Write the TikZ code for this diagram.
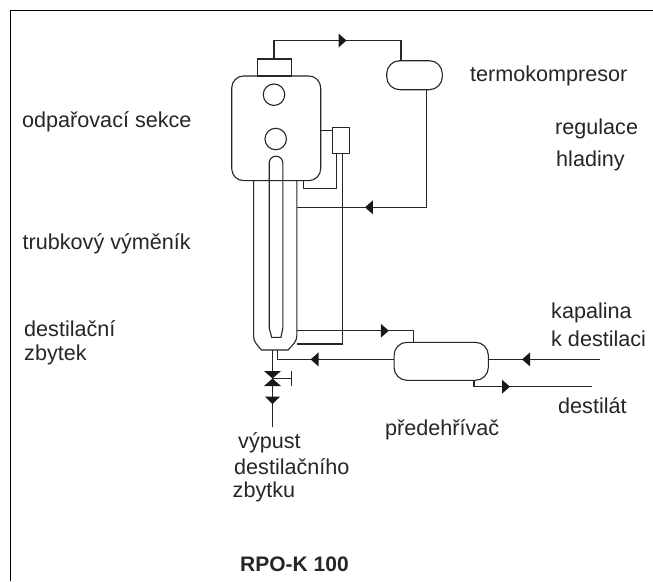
\documentclass[tikz,border=0pt]{standalone}
\usepackage{fontspec}
\setmainfont{Liberation Sans}
\usetikzlibrary{decorations.markings}
\begin{document}
\begin{tikzpicture}[x=1pt,y=-1pt,
  pipe/.style={draw=black!85,line width=1.1pt},
  vesselbox/.style={pipe,rectangle,inner sep=0pt,outer sep=0pt,minimum width=#1},
  lbl/.style={inner sep=0pt,anchor=base west,font=\fontsize{21.6}{24}\selectfont,text=black!85},
  boldlbl/.style={inner sep=0pt,anchor=base west,font=\fontsize{21}{24}\selectfont\bfseries,text=black!85},
  flowtip/.style={postaction={decorate},decoration={markings,mark=at position #1pt with {\fill[black!90] (-4,-7) -- (4,0) -- (-4,7) -- cycle;}}},
]
\useasboundingbox (0,0) rectangle (653,581);
\fill[white] (0,0) rectangle (653,581);
\draw[line width=1.6pt] (10.5,581) -- (10.5,10.5) -- (653,10.5);
% vessels
\node[vesselbox=89pt,minimum height=104.7pt,rounded corners=12pt] (vessel) at (276.2,128.3) {};
\node[vesselbox=34.5pt,minimum height=17pt] (stub) at (274.5,67.5) {};
\node[vesselbox=55.6pt,minimum height=29pt,rounded corners=13pt] (comp) at (414.5,75.2) {};
\node[vesselbox=17.4pt,minimum height=25.7pt] (reg) at (341,140.2) {};
\node[vesselbox=94.3pt,minimum height=38pt,rounded corners=13pt] (preh) at (441.2,361.3) {};
\node[pipe,circle,inner sep=0pt,minimum size=21.5pt] (c1) at (274,94.7) {};
\node[pipe,circle,inner sep=0pt,minimum size=21.5pt] (c2) at (275.7,139) {};
% helper points
\coordinate (a1) at (274,40.5);
\coordinate (a2) at (401,40.5);
\coordinate (b1) at (426.3,207.3);
\coordinate (tube) at (296.8,207.3);
\coordinate (t1) at (296.8,330.7);
\coordinate (t2) at (413.3,330.7);
\coordinate (r1) at (342.7,344);
\coordinate (r2) at (296.5,344);
\coordinate (s1) at (336.3,188.7);
\coordinate (s2) at (303.3,188.7);
\coordinate (out1) at (277.7,359.4);
\coordinate (feed) at (600,359.4);
\coordinate (d1) at (474,386.7);
\coordinate (d2) at (591.7,386.7);
\coordinate (drain) at (272.5,350);
\coordinate (end) at (272.5,426.7);
\coordinate (v) at (272.5,378.5);
\coordinate (h) at (291.7,378.5);
% exchanger tube
\draw[pipe] (253.6,180.7) -- (253.6,336) .. controls (253.6,341) and (256,344) .. (261.5,350) -- (288,350) .. controls (293,345) and (296.8,341) .. (296.8,336) -- (296.8,180.7);
\draw[pipe] (269.2,328) -- (269.2,163) arc[start angle=180,end angle=360,radius=6.8] -- (282.8,328) -- (281,337.3) -- (271.7,337.3) -- cycle;
% connectors
\draw[pipe,flowtip=87] (274,59) -- (a1) -- (a2) -- (401,60.7);
\draw[pipe,flowtip=175] (426.3,89.7) -- (b1) -- (tube);
\draw[pipe] (vessel.east |- 0,130.7) -- (reg.west |- 0,130.7);
\draw[pipe] (336.3,153) -- (s1) -- (s2) -- (303.3,180.7);
\draw[pipe] (342.7,153) -- (r1) -- (r2);
\draw[pipe,flowtip=88] (t1) -- (t2) -- (413.3,342.3);
\draw[pipe,flowtip=79.5] (preh.west |- out1) -- (out1) -- (277.7,350);
\draw[pipe,flowtip=74] (feed) -- (preh.east |- feed);
\draw[pipe,flowtip=38.4] (474,380.3) -- (d1) -- (d2);
\draw[pipe] (drain) -- (end);
\draw[pipe] (v) -- (h);
\draw[pipe] (291.7,371) -- (291.7,386);
% valve and drain arrow
\fill[black!90] (264,371) -- (281,371) -- (272.5,378.5) -- (281,386) -- (264,386) -- (272.5,378.5) -- cycle;
\fill[black!90] (265.2,396.7) -- (279.8,396.7) -- (272.5,404.2) -- cycle;
% labels
\node[lbl] (l1) at (22,127.3) {odpařovací sekce};
\node[lbl] (l2) at (22.5,249) {trubkový výměník};
\node[lbl] (l3) at (24,336.7) {destilační};
\node[lbl] (l4) at (24,360) {zbytek};
\node[lbl] (l5) at (470,81.7) {termokompresor};
\node[lbl] (l6) at (555,134) {regulace};
\node[lbl] (l7) at (556,166.7) {hladiny};
\node[lbl] (l8) at (551,318) {kapalina};
\node[lbl] (l9) at (551,346) {k destilaci};
\node[lbl] (l10) at (558,413) {destilát};
\node[lbl] (l11) at (385,435) {předehřívač};
\node[lbl] (l12) at (238,448) {výpust};
\node[lbl] (l13) at (234,474) {destilačního};
\node[lbl] (l14) at (232.5,497.7) {zbytku};
\node[boldlbl] (l15) at (240,571.5) {RPO-K 100};
\end{tikzpicture}
\end{document}
